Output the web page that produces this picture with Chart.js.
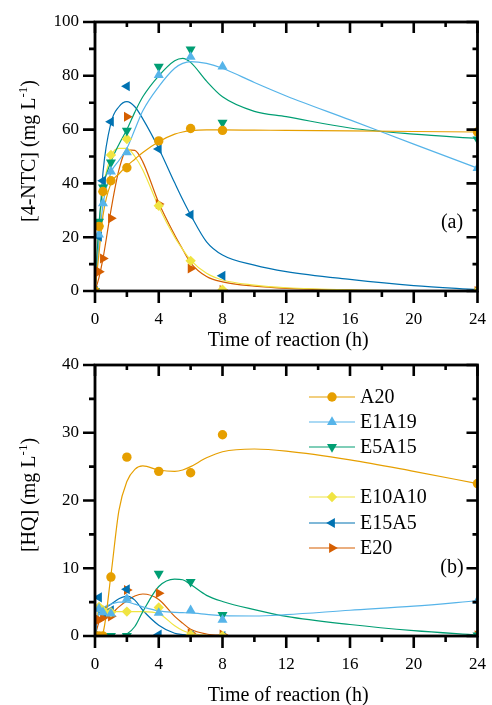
<!DOCTYPE html>
<html>
<head>
<meta charset="utf-8">
<script src="https://cdn.jsdelivr.net/npm/chart.js@4/dist/chart.umd.min.js"></script>
<style>
html, body { margin: 0; padding: 0; background: #fff; }
#wrap { position: relative; width: 492px; height: 705px; overflow: hidden; }
canvas { position: absolute; left: 0; }
#ntc { top: 0; }
#hq { top: 345px; }
</style>
</head>
<body>
<div id="wrap">
  <canvas id="ntc" width="492" height="352"></canvas>
  <canvas id="hq" width="492" height="360"></canvas>
</div>
<script>
// series
const seriesNames = ['A20', 'E1A19', 'E5A15', 'E10A10', 'E15A5', 'E20'];
const seriesColors = ['#E69F00', '#56B4E9', '#009E73', '#F0E442', '#0072B2', '#D55E00'];
const markerStyles = ['circle', 'triangle', 'triangle', 'rectRot', 'triangle', 'triangle'];
const markerRotations = [0, 0, 180, 0, -90, 90];
const markerSizes = [4.7, 5.8, 5.8, 5.2, 5.8, 5.8];

// measured points (h)
const sampleTimes = [0, 0.25, 0.5, 1, 2, 4, 6, 8, 24];

// (a) [4-NTC], mg/L
const ntcA20    = [0, 24, 37, 41, 45.8, 55.8, 60.4, 59.7, 59.1];
const ntcE1A19  = [0, 21, 32.6, 44.4, 51.5, 80.3, 87, 83.4, 45.7];
const ntcE5A15  = [0, 25.8, 38.5, 47.8, 59.6, 83.4, 89.8, 62.6, 56.4];
const ntcE10A10 = [0, 24.2, 36.9, 50.6, 56.5, 31.7, 11.2, 0.5, 0];
const ntcE15A5  = [0, 20.2, 41, 62.9, 76.1, 52.8, 28.3, 5.7, 0.2];
const ntcE20    = [0, 7.2, 12.1, 27, 64.8, 32.3, 8.4, 0.4, 0];

// (b) [HQ], mg/L
const hqA20    = [0, 0, 0, 8.7, 26.4, 24.3, 24.1, 29.7, 22.5];
const hqE1A19  = [0, 4.0, 3.5, 3.3, 5.5, 3.4, 3.8, 2.4, 5.2];
const hqE5A15  = [0, 0, 0, 0, 0, 9.2, 8.0, 3.1, 0.1];
const hqE10A10 = [0, 4.3, 3.8, 3.5, 3.6, 4.2, 0.2, 0, 0];
const hqE15A5  = [0, 5.7, 3.6, 3.8, 6.9, 0.2, 0.1, 0, 0];
const hqE20    = [0, 2.4, 2.7, 2.9, 6.8, 6.3, 0.4, 0.2, 0.1];

// fitted curves
const fitTimes = [0, 0.25, 0.5, 1, 1.5, 2, 2.5, 3, 4, 5, 5.5, 6, 7, 8, 10, 12, 16, 20, 24];

const ntcFitA20    = [0, 14, 28, 40, 43.5, 46.5, 49, 51.5, 55.5, 58.3, 59.1, 59.6, 59.9, 59.9, 59.8, 59.7, 59.5, 59.3, 59.1];
const ntcFitE1A19  = [0, 18, 32, 44, 48.5, 53, 60, 67, 76, 82.8, 84.6, 85.3, 84.6, 82.8, 77.5, 72.5, 63.6, 54.6, 45.7];
const ntcFitE5A15  = [0, 25, 38, 48, 54.5, 60, 66.5, 72.2, 80, 85.6, 86.5, 85, 78, 72.2, 66.8, 64.8, 60.6, 58.3, 56.7];
const ntcFitE10A10 = [0, 23, 37.5, 50, 53, 53, 50, 45, 31.3, 20, 15.5, 11.5, 6.6, 4.1, 2.2, 1.2, 0.4, 0.15, 0];
const ntcFitE15A5  = [0, 21.5, 44, 62.5, 68.5, 70.4, 68.5, 64, 53, 40.2, 34, 28.3, 18.3, 13.4, 9.6, 7.2, 4.3, 2.0, 0.5];
const ntcFitE20    = [0, 5, 12, 30, 45, 52.5, 52.3, 48, 32.8, 20.8, 15.5, 10.5, 5.4, 3.4, 1.8, 1.0, 0.3, 0.1, 0];

const hqFitA20    = [0, 0, 0.5, 9, 18.5, 22.8, 24.6, 25.1, 24.5, 24.3, 24.5, 25, 26.3, 27.2, 27.6, 27.3, 26, 24.3, 22.5];
const hqFitE1A19  = [0, 3.6, 4.2, 4.7, 5.0, 5.0, 4.7, 4.3, 3.7, 3.5, 3.45, 3.4, 3.2, 3.0, 2.95, 3.15, 3.8, 4.4, 5.2];
const hqFitE5A15  = [0, 0, 0, 0, 0.05, 0.3, 1.4, 3.6, 7.3, 8.4, 8.3, 7.6, 6.0, 5.1, 3.9, 2.9, 1.7, 0.8, 0.15];
const hqFitE10A10 = [0, 4.0, 3.8, 3.6, 3.6, 3.6, 3.6, 3.6, 3.3, 1.5, 0.8, 0.4, 0.1, 0, 0, 0, 0, 0, 0];
const hqFitE15A5  = [0, 3.8, 4.0, 4.7, 5.5, 5.9, 5.3, 3.8, 1.6, 0.4, 0.2, 0.1, 0, 0, 0, 0, 0, 0, 0];
const hqFitE20    = [0, 2.0, 2.5, 3.2, 4.3, 5.2, 5.9, 6.2, 5.4, 2.9, 1.9, 1.0, 0.3, 0.1, 0, 0, 0, 0, 0];

Chart.defaults.font.family = "'Liberation Serif', 'Times New Roman', serif";
Chart.defaults.color = '#000';

const SERIF = "'Liberation Serif', 'Times New Roman', serif";

function toXY(xs, ys) {
  return xs.map((x, i) => ({ x: x, y: ys[i] }));
}

function buildDatasets(points, fits) {
  const sets = [];
  points.forEach((vals, i) => {
    sets.push({
      label: seriesNames[i],
      data: toXY(sampleTimes, vals),
      showLine: false,
      pointStyle: markerStyles[i],
      pointRotation: markerRotations[i],
      pointRadius: markerSizes[i],
      pointHoverRadius: markerSizes[i],
      pointBackgroundColor: seriesColors[i],
      pointBorderColor: seriesColors[i],
      pointBorderWidth: 0,
      clip: 0,
      order: 1
    });
  });
  fits.forEach((vals, i) => {
    sets.push({
      label: seriesNames[i] + ' fit',
      data: toXY(fitTimes, vals),
      showLine: true,
      borderColor: seriesColors[i],
      borderWidth: 1.2,
      pointRadius: 0,
      cubicInterpolationMode: 'monotone',
      clip: 0,
      order: 2
    });
  });
  return sets;
}

// frame, mirrored ticks, axis titles, panel label, legend
const decorations = {
  id: 'decorations',
  afterDraw(chart, args, o) {
    const { ctx, chartArea: a } = chart;
    const xs = chart.scales.x, ys = chart.scales.y;
    ctx.save();
    ctx.strokeStyle = '#000';
    ctx.lineWidth = 2.8;
    ctx.strokeRect(a.left, a.top, a.right - a.left, a.bottom - a.top);

    ctx.beginPath();
    for (let v = 0; v <= 24; v += 2) {
      const px = xs.getPixelForValue(v);
      const major = v % 4 === 0;
      ctx.moveTo(px, a.bottom);
      ctx.lineTo(px, a.bottom + (major ? 12 : 6));
      ctx.moveTo(px, a.top);
      ctx.lineTo(px, a.top + (major ? 11 : 5));
    }
    for (let v = 0; v <= o.yMax + 1e-9; v += o.yMinor) {
      const py = ys.getPixelForValue(v);
      const major = Math.abs(v / o.yMajor - Math.round(v / o.yMajor)) < 1e-6;
      ctx.moveTo(a.left, py);
      ctx.lineTo(a.left - (major ? 12 : 6), py);
      ctx.moveTo(a.right, py);
      ctx.lineTo(a.right - (major ? 11 : 5), py);
    }
    ctx.lineWidth = 2.6;
    ctx.stroke();

    ctx.fillStyle = '#000';
    ctx.font = '20px ' + SERIF;
    ctx.textAlign = 'center';
    ctx.textBaseline = 'alphabetic';
    ctx.fillText('Time of reaction (h)', (a.left + a.right) / 2 + 2, o.xTitleY);

    // rotated y title with superscript
    ctx.save();
    ctx.translate(35, o.yTitleY);
    ctx.rotate(-Math.PI / 2);
    ctx.textAlign = 'left';
    const main = o.yTitle + ' (mg L';
    ctx.font = '20px ' + SERIF;
    const wMain = ctx.measureText(main).width;
    ctx.font = '13px ' + SERIF;
    const wSup = ctx.measureText('-1').width;
    ctx.font = '20px ' + SERIF;
    const wEnd = ctx.measureText(')').width;
    let x0 = -(wMain + wSup + wEnd) / 2;
    ctx.fillText(main, x0, 0);
    ctx.font = '13px ' + SERIF;
    ctx.fillText('-1', x0 + wMain, -8);
    ctx.font = '20px ' + SERIF;
    ctx.fillText(')', x0 + wMain + wSup, 0);
    ctx.restore();

    ctx.font = '20px ' + SERIF;
    ctx.textAlign = 'center';
    ctx.textBaseline = 'middle';
    ctx.fillText(o.panel, 452, 223);

    if (o.legendRows) {
      ctx.textAlign = 'left';
      o.legendRows.forEach((ry, i) => {
        ctx.beginPath();
        ctx.strokeStyle = seriesColors[i];
        ctx.lineWidth = 1.2;
        ctx.moveTo(309, ry);
        ctx.lineTo(355, ry);
        ctx.stroke();
        ctx.fillStyle = seriesColors[i];
        Chart.helpers.drawPoint(ctx, {
          pointStyle: markerStyles[i],
          rotation: markerRotations[i],
          radius: markerSizes[i],
          borderWidth: 0
        }, 332, ry);
        ctx.fillStyle = '#000';
        ctx.fillText(seriesNames[i], 360, ry + 1);
      });
    }
    ctx.restore();
  }
};

function makeChart(id, points, fits, opt) {
  return new Chart(document.getElementById(id), {
    type: 'scatter',
    data: { datasets: buildDatasets(points, fits) },
    options: {
      responsive: false,
      animation: false,
      events: [],
      layout: { padding: { top: opt.top, right: 10, left: 0, bottom: 0 } },
      plugins: {
        legend: { display: false },
        tooltip: { enabled: false },
        decorations: opt.deco
      },
      scales: {
        x: {
          type: 'linear', min: 0, max: 24,
          ticks: { stepSize: 4, autoSkip: false, maxRotation: 0, padding: 6, font: { size: 17 }, color: '#000' },
          grid: { drawOnChartArea: false, drawTicks: true, tickLength: 12, color: 'rgba(0,0,0,0)' },
          border: { display: false },
          afterFit: s => { s.height = opt.xHeight; }
        },
        y: {
          min: 0, max: opt.yMax,
          ticks: { stepSize: opt.yMajor, padding: 4, font: { size: 17 }, color: '#000' },
          grid: { drawOnChartArea: false, drawTicks: true, tickLength: 12, color: 'rgba(0,0,0,0)' },
          border: { display: false },
          afterFit: s => { s.width = 95; }
        }
      }
    },
    plugins: [decorations]
  });
}

makeChart('ntc',
  [ntcA20, ntcE1A19, ntcE5A15, ntcE10A10, ntcE15A5, ntcE20],
  [ntcFitA20, ntcFitE1A19, ntcFitE5A15, ntcFitE10A10, ntcFitE15A5, ntcFitE20],
  {
    top: 22, xHeight: 61, yMax: 100, yMajor: 20,
    deco: { yMax: 100, yMajor: 20, yMinor: 10, xTitleY: 346, yTitleY: 151, yTitle: '[4-NTC]', panel: '(a)' }
  });

makeChart('hq',
  [hqA20, hqE1A19, hqE5A15, hqE10A10, hqE15A5, hqE20],
  [hqFitA20, hqFitE1A19, hqFitE5A15, hqFitE10A10, hqFitE15A5, hqFitE20],
  {
    top: 20, xHeight: 69, yMax: 40, yMajor: 10,
    deco: { yMax: 40, yMajor: 10, yMinor: 5, xTitleY: 356, yTitleY: 150, yTitle: '[HQ]', panel: '(b)',
            legendRows: [52, 77, 102, 152, 178, 203] }
  });
</script>
</body>
</html>
